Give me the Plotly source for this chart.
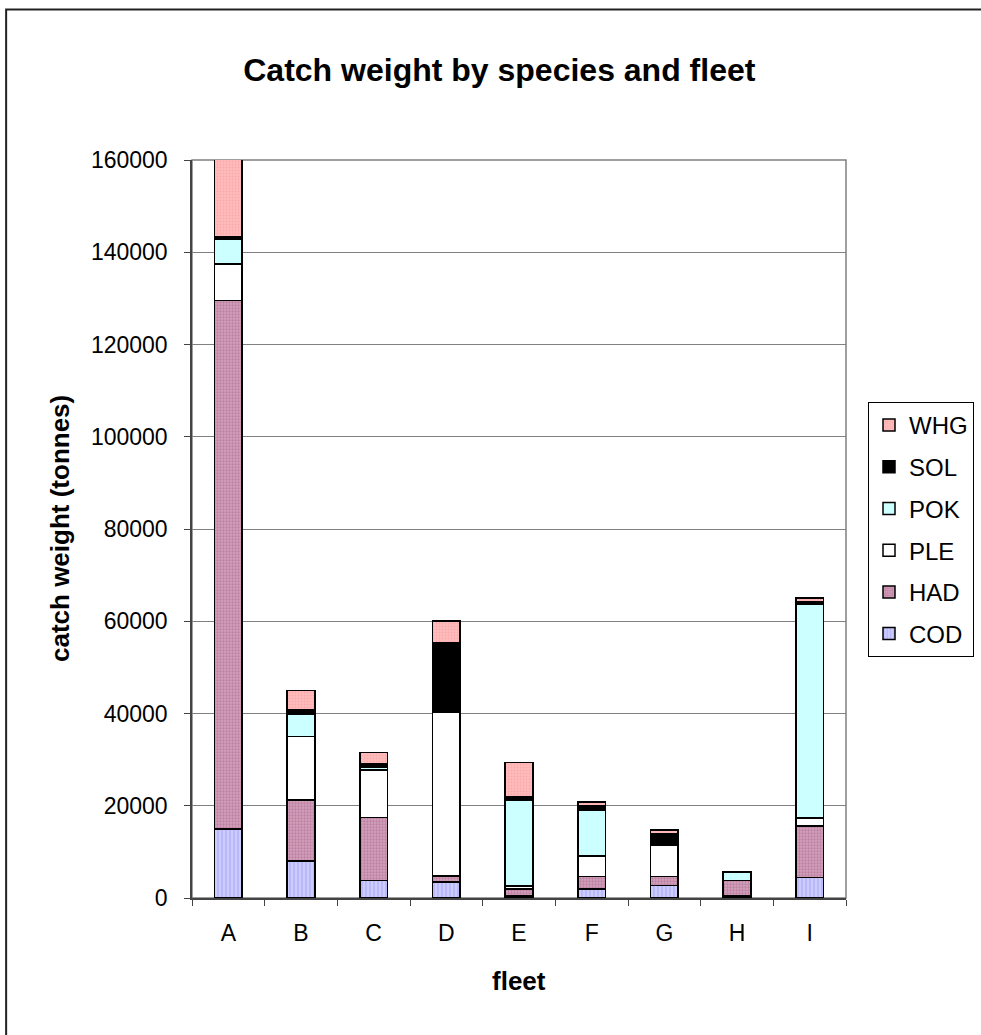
import plotly.graph_objects as go

fleets = ["A", "B", "C", "D", "E", "F", "G", "H", "I"]
cod = [15000, 8000, 3800, 3500, 400, 1900, 2700, 400, 4400]
had = [114500, 13200, 13600, 1300, 1600, 2800, 2000, 3400, 11200]
ple = [8000, 13800, 10400, 35400, 600, 4400, 6800, 0, 1700]
pok = [5300, 4800, 500, 0, 18600, 9900, 0, 1800, 46300]
sol = [500, 1000, 700, 15200, 800, 1100, 2500, 0, 600]
whg = [17700, 4200, 2600, 4700, 7400, 700, 700, 0, 800]
y_ticks = [0, 20000, 40000, 60000, 80000, 100000, 120000, 140000, 160000]

FONT = "Liberation Sans, Arial, sans-serif"

series = [
    ("COD", cod, dict(color="#CCCCFF", pattern=dict(shape="|", fgcolor="#8F8FEF", size=4, solidity=0.3))),
    ("HAD", had, dict(color="#D4A0BA", pattern=dict(shape=".", fgcolor="#A0628A", size=3, solidity=0.45))),
    ("PLE", ple, dict(color="#FFFFFF")),
    ("POK", pok, dict(color="#CCFFFF")),
    ("SOL", sol, dict(color="#000000")),
    ("WHG", whg, dict(color="#FFBBBB", pattern=dict(shape=".", fgcolor="#F59A9A", size=3, solidity=0.35))),
]

fig = go.Figure()
n = len(series)
for i, (name, vals, mk) in enumerate(series):
    mk = dict(mk)
    mk["line"] = dict(color="#000000", width=1.5)
    fig.add_trace(go.Bar(x=fleets, y=vals, name=name, marker=mk, legendgroup=name,
                         legendrank=1000 + (n - i)))

fig.update_layout(
    width=981, height=1035,
    barmode="stack", bargap=0.62,
    paper_bgcolor="white", plot_bgcolor="white",
    margin=dict(l=192, r=135, t=160, b=137, autoexpand=False),
    font=dict(family=FONT, color="#000000"),
    showlegend=True,
    title=dict(text="<b>Catch weight by species and fleet</b>", x=0.509, xref="container",
               y=1 - 70 / 1035, yref="container", xanchor="center", yanchor="middle",
               font=dict(size=32, family=FONT, color="#000000")),
    legend=dict(x=868 / 981, y=1 - 402 / 1035, xref="container", yref="container",
                xanchor="left", yanchor="top", traceorder="grouped",
                tracegroupgap=7.5, font=dict(size=24, family=FONT), bordercolor="#000000",
                borderwidth=1, bgcolor="white"),
    xaxis=dict(type="category", tickson="boundaries", ticks="outside", ticklen=6, tickcolor="#444444",
               showline=True, linecolor="#444444", linewidth=1.5, tickfont=dict(size=23),
               ticklabelstandoff=14, showgrid=False),
    yaxis=dict(range=[0, 160000], tickvals=y_ticks, tickformat="d", ticks="outside", ticklen=6,
               tickcolor="#444444", showline=True, linecolor="#444444", linewidth=1.5,
               showgrid=True, gridcolor="#808080", gridwidth=1, tickfont=dict(size=23),
               ticklabelstandoff=12, zeroline=False),
    shapes=[
        dict(type="rect", xref="paper", yref="paper", x0=0, x1=1, y0=0, y1=1,
             line=dict(color="#808080", width=1.5), layer="below"),
        dict(type="rect", xref="paper", yref="paper", x0=-0.2842, x1=1.25, y0=-0.22, y1=1.2039,
             line=dict(color="#222222", width=2)),
    ],
    annotations=[
        dict(text="<b>catch weight (tonnes)</b>", xref="paper", yref="paper",
             x=(60 - 192) / 654, y=0.5, textangle=-90, showarrow=False,
             xanchor="center", yanchor="middle", font=dict(size=26, family=FONT)),
        dict(text="<b>fleet</b>", xref="paper", yref="paper", x=0.5, y=(898 - 981) / 738,
             showarrow=False, xanchor="center", yanchor="middle", font=dict(size=26, family=FONT)),
    ],
)

fig.write_html("out.html", config={"displayModeBar": False},
               post_script="document.body.style.margin='0';document.body.style.padding='0';")
